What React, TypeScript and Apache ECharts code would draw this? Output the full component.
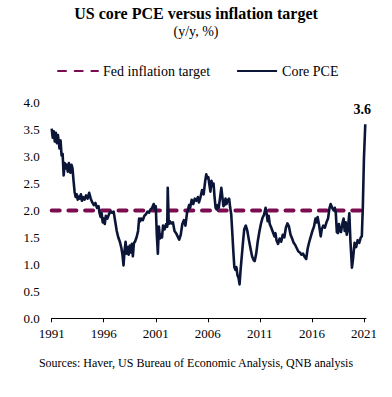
import React, { useEffect, useRef } from "react";
import * as echarts from "echarts";

const START_YEAR = 1991;
const yearTicks = [1991, 1996, 2001, 2006, 2011, 2016, 2021];
const fedTarget = 2.0;
const latestLabel = 3.6;

const years = [
  1991.0, 1991.1, 1991.2, 1991.3, 1991.4, 1991.5, 1991.6, 1991.75, 1991.85, 1991.95,
  1992.05, 1992.15, 1992.25, 1992.35, 1992.45, 1992.55, 1992.65, 1992.8, 1992.9, 1993.0,
  1993.1, 1993.2, 1993.3, 1993.4, 1993.5, 1993.6, 1993.7, 1993.8, 1993.9, 1994.0,
  1994.15, 1994.3, 1994.45, 1994.6, 1994.75, 1994.9, 1995.05, 1995.2, 1995.35, 1995.5,
  1995.6, 1995.7, 1995.8, 1995.9, 1996.0, 1996.1, 1996.2, 1996.35, 1996.5, 1996.65,
  1996.8, 1996.95, 1997.1, 1997.25, 1997.4, 1997.55, 1997.7, 1997.8, 1997.9, 1998.0,
  1998.1, 1998.2, 1998.3, 1998.4, 1998.5, 1998.6, 1998.7, 1998.8, 1998.9, 1999.0,
  1999.15, 1999.3, 1999.4, 1999.5, 1999.6, 1999.75, 1999.9, 2000.05, 2000.2, 2000.35,
  2000.5, 2000.65, 2000.8, 2000.9, 2001.0, 2001.1, 2001.2, 2001.3, 2001.4, 2001.5,
  2001.6, 2001.7, 2001.85, 2002.0, 2002.1, 2002.15, 2002.25, 2002.35, 2002.5, 2002.65,
  2002.8, 2002.95, 2003.1, 2003.25, 2003.4, 2003.55, 2003.7, 2003.85, 2004.0, 2004.1,
  2004.2, 2004.3, 2004.45, 2004.6, 2004.75, 2004.9, 2005.05, 2005.15, 2005.3, 2005.45,
  2005.6, 2005.75, 2005.85, 2005.95, 2006.05, 2006.15, 2006.25, 2006.35, 2006.45, 2006.55,
  2006.65, 2006.75, 2006.85, 2006.95, 2007.05, 2007.15, 2007.3, 2007.4, 2007.5, 2007.6,
  2007.7, 2007.8, 2007.9, 2008.0, 2008.05, 2008.15, 2008.25, 2008.35, 2008.45, 2008.55,
  2008.65, 2008.75, 2008.85, 2008.95, 2009.05, 2009.15, 2009.25, 2009.4, 2009.5, 2009.65,
  2009.8, 2009.95, 2010.1, 2010.25, 2010.4, 2010.5, 2010.65, 2010.8, 2010.95, 2011.1,
  2011.25, 2011.4, 2011.55, 2011.65, 2011.75, 2011.85, 2011.95, 2012.1, 2012.25, 2012.4,
  2012.5, 2012.6, 2012.75, 2012.9, 2013.05, 2013.2, 2013.35, 2013.5, 2013.65, 2013.8,
  2013.95, 2014.1, 2014.25, 2014.4, 2014.55, 2014.7, 2014.85, 2015.0, 2015.15, 2015.3,
  2015.45, 2015.6, 2015.75, 2015.9, 2016.05, 2016.2, 2016.35, 2016.45, 2016.55, 2016.7,
  2016.85, 2016.95, 2017.1, 2017.25, 2017.4, 2017.55, 2017.7, 2017.8, 2017.95, 2018.1,
  2018.2, 2018.3, 2018.4, 2018.5, 2018.6, 2018.7, 2018.8, 2018.95, 2019.05, 2019.15,
  2019.25, 2019.35, 2019.45, 2019.6, 2019.7, 2019.85, 2019.95, 2020.1, 2020.25, 2020.4,
  2020.55, 2020.7, 2020.8, 2020.9, 2021.0, 2021.13,
];

const corePce = [
  3.52, 3.35, 3.47, 3.28, 3.44, 3.25, 3.4, 3.15, 3.3, 3.02,
  3.05, 2.65, 2.88, 2.78, 2.85, 2.72, 2.88, 2.7, 2.85, 2.78,
  2.55, 2.35, 2.25, 2.3, 2.2, 2.26, 2.22, 2.3, 2.18, 2.25,
  2.2, 2.28, 2.22, 2.33, 2.22, 2.15, 2.1, 2.14, 2.05, 2.08,
  1.95, 1.88, 1.95, 1.78, 1.85, 1.75, 1.9, 1.85, 1.93, 1.98,
  1.96, 1.98, 1.8, 1.62, 1.5, 1.42, 1.3, 1.18, 0.98, 1.25,
  1.42, 1.2, 1.32, 1.18, 1.35, 1.22, 1.38, 1.15, 1.4, 1.42,
  1.5, 1.62, 1.85, 1.8, 1.85, 1.82, 1.9, 1.93, 1.98, 1.96,
  2.02, 2.05, 2.12, 2.02, 2.08, 1.55, 1.2, 1.7, 1.48, 1.55,
  1.5, 1.72, 1.65, 1.75, 1.7, 2.42, 1.75, 1.8, 1.76, 1.78,
  1.62, 1.58, 1.52, 1.46, 1.55, 1.75, 1.82, 1.72, 1.95, 2.02,
  2.1, 2.05, 2.2, 2.12, 2.22, 2.18, 2.25, 2.15, 2.25, 2.38,
  2.3, 2.55, 2.67, 2.6, 2.62, 2.48, 2.35, 2.55, 2.45, 2.5,
  2.25, 2.05, 2.02, 2.1, 2.05, 2.2, 2.42, 2.25, 2.08, 2.1,
  2.22, 2.12, 2.2, 2.18, 2.22, 2.05, 1.93, 1.6, 1.25, 0.95,
  0.9, 0.95, 0.8, 0.75, 0.63, 0.9, 1.12, 1.45, 1.65, 1.72,
  1.62, 1.45, 1.3, 1.15, 1.08, 1.06, 1.2, 1.43, 1.6, 1.75,
  1.86, 1.92, 2.05, 1.95, 1.8, 1.9, 1.75, 1.68, 1.6, 1.52,
  1.58, 1.45, 1.38, 1.48, 1.42, 1.55, 1.5, 1.68, 1.76, 1.7,
  1.55, 1.48, 1.4, 1.36, 1.3, 1.24, 1.22, 1.18, 1.2, 1.14,
  1.1, 1.3, 1.42, 1.52, 1.62, 1.7, 1.85, 1.78, 1.88, 1.72,
  1.52, 1.65, 1.72, 1.68, 1.78, 1.85, 2.05, 2.12, 2.05, 2.0,
  2.05, 1.95, 1.6, 1.58, 1.75, 1.62, 1.6, 1.78, 1.85, 1.62,
  1.78, 1.55, 1.65, 1.95, 1.45, 0.94, 1.1, 1.4, 1.32, 1.45,
  1.4, 1.5, 1.52, 2.1, 2.95, 3.6,
];

const SERIF = "'Liberation Serif', 'Times New Roman', serif";
const NAVY = "#0b1538";
const MAROON = "#7a0c4f";

export default function App() {
  const ref = useRef<HTMLDivElement>(null);

  useEffect(() => {
    if (!ref.current) return;
    const chart = echarts.init(ref.current, undefined, { renderer: "svg" });
    const tickOffsets = yearTicks.map((y) => y - START_YEAR);
    const pceData = years.map((y, i) => [y - START_YEAR, corePce[i]]);
    const lastX = years[years.length - 1] - START_YEAR;
    const xMax = 30.2;
    const targetData = [
      [0, fedTarget],
      [xMax, fedTarget],
    ];

    chart.setOption({
      animation: false,
      backgroundColor: "#ffffff",
      title: [
        {
          text: "US core PCE versus inflation target",
          left: "center",
          top: 5,
          padding: 0,
          textStyle: { fontFamily: SERIF, fontSize: 16, fontWeight: "bold", color: "#000" },
        },
        {
          text: "(y/y, %)",
          left: "center",
          top: 24,
          padding: 0,
          textStyle: { fontFamily: SERIF, fontSize: 14, fontWeight: "normal", color: "#000" },
        },
        {
          text: "Sources: Haver, US Bureau of Economic Analysis, QNB analysis",
          left: "center",
          top: 357,
          padding: 0,
          textStyle: { fontFamily: SERIF, fontSize: 12, fontWeight: "normal", color: "#000" },
        },
      ],
      legend: {
        data: ["Fed inflation target", "Core PCE"],
        left: 57,
        top: 64,
        padding: 0,
        itemWidth: 40,
        itemHeight: 14,
        itemGap: 26,
        itemStyle: { opacity: 0 },
        textStyle: { fontFamily: SERIF, fontSize: 14, color: "#000" },
      },
      grid: { left: 51.7, right: 392 - 366, top: 102.7, bottom: 397 - 318.3, containLabel: false },
      xAxis: {
        type: "value",
        min: 0,
        max: xMax,
        axisLine: { show: true, lineStyle: { color: "#000", width: 1 } },
        axisTick: { show: true, length: 4, inside: false, lineStyle: { color: "#000" }, customValues: tickOffsets },
        splitLine: { show: false },
        axisLabel: {
          customValues: tickOffsets,
          formatter: (v: number) => String(Math.round(v + START_YEAR)),
          fontFamily: SERIF,
          fontSize: 13,
          color: "#000",
          margin: 9,
        },
      },
      yAxis: {
        type: "value",
        min: 0,
        max: 4,
        interval: 0.5,
        axisLine: { show: false },
        axisTick: { show: false },
        splitLine: { show: false },
        axisLabel: {
          formatter: (v: number) => v.toFixed(1),
          fontFamily: SERIF,
          fontSize: 13,
          color: "#000",
          margin: 12,
        },
      },
      series: [
        {
          name: "Fed inflation target",
          type: "line",
          data: targetData,
          symbol: "none",
          lineStyle: { color: MAROON, width: 4, type: [8, 8.7], cap: "round" },
          itemStyle: { color: MAROON },
          z: 2,
        },
        {
          name: "Core PCE",
          type: "line",
          data: pceData,
          symbol: "none",
          lineStyle: { color: NAVY, width: 2.6, join: "round" },
          itemStyle: { color: NAVY },
          z: 3,
          markPoint: {
            symbol: "circle",
            symbolSize: 0,
            data: [{ coord: [lastX, latestLabel], value: latestLabel }],
            label: {
              show: true,
              position: "top",
              distance: 8,
              offset: [-3, 0],
              formatter: (p: any) => Number(p.value).toFixed(1),
              fontFamily: SERIF,
              fontSize: 14,
              fontWeight: "bold",
              color: "#000",
            },
          },
        },
      ],
    });

    return () => chart.dispose();
  }, []);

  return (
    <div
      ref={ref}
      style={{ position: "fixed", left: 0, top: 0, width: 392, height: 397, background: "#fff" }}
    />
  );
}
